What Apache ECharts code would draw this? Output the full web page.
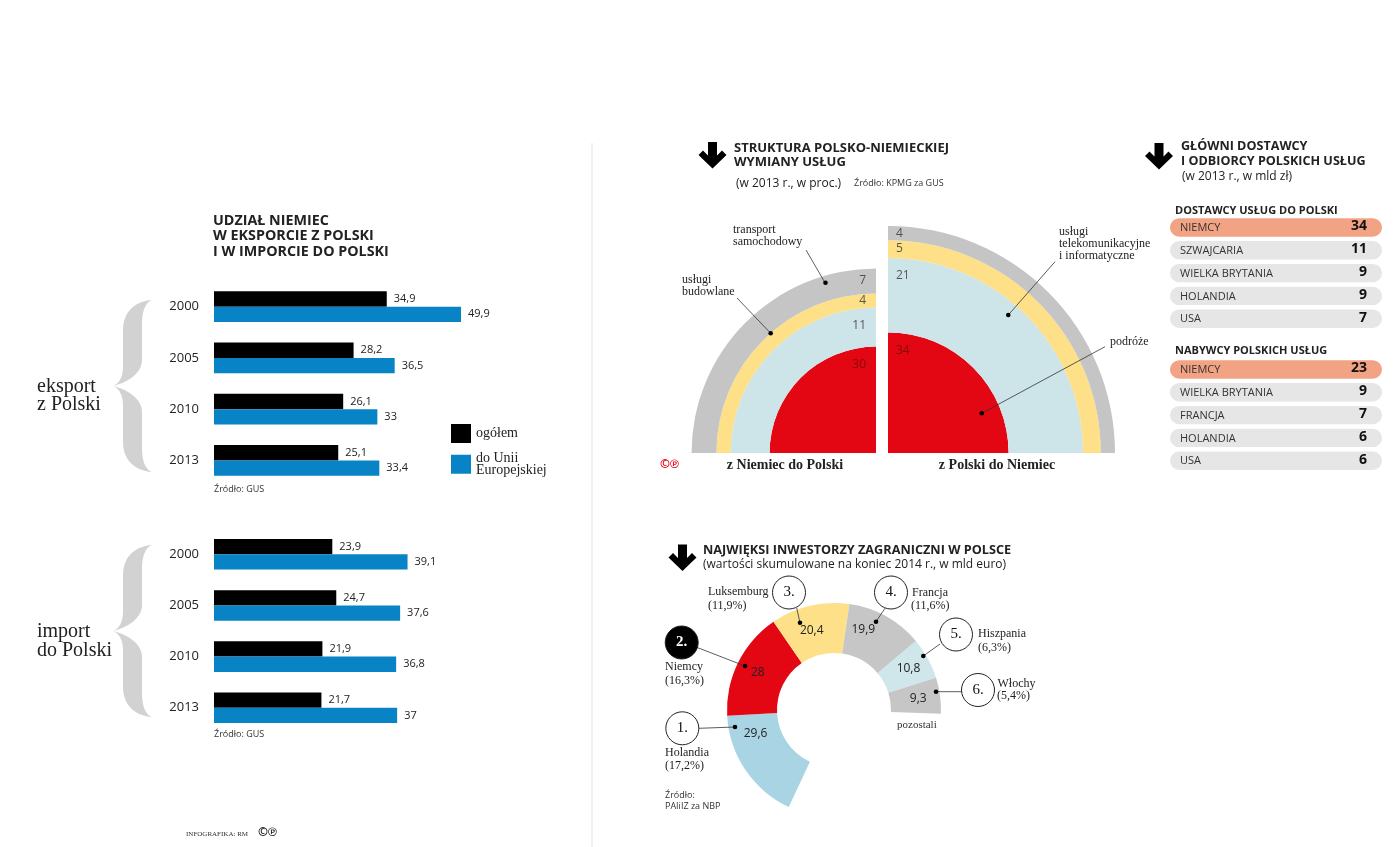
<!DOCTYPE html>
<html><head><meta charset="utf-8">
<script src="https://cdn.jsdelivr.net/npm/echarts@6/dist/echarts.min.js"></script>
<style>html,body{margin:0;padding:0;background:#fff}#c{width:1400px;height:847px}</style>
</head><body><div id="c"></div>
<script>
// ---------- DATA ----------
const years = ['2000', '2005', '2010', '2013'];
const exportTotal = [34.9, 28.2, 26.1, 25.1];
const exportEU = [49.9, 36.5, 33, 33.4];
const importTotal = [23.9, 24.7, 21.9, 21.7];
const importEU = [39.1, 37.6, 36.8, 37];

const serviceLayers = ['podróże', 'usługi telekomunikacyjne i informatyczne', 'usługi budowlane', 'transport samochodowy'];
const deToPl = [30, 11, 4, 7];   // z Niemiec do Polski
const plToDe = [34, 21, 5, 4];   // z Polski do Niemiec

const suppliers = ['NIEMCY', 'SZWAJCARIA', 'WIELKA BRYTANIA', 'HOLANDIA', 'USA'];
const supplierValues = [34, 11, 9, 9, 7];
const buyers = ['NIEMCY', 'WIELKA BRYTANIA', 'FRANCJA', 'HOLANDIA', 'USA'];
const buyerValues = [23, 9, 7, 6, 6];

const investors = ['Holandia', 'Niemcy', 'Luksemburg', 'Francja', 'Hiszpania', 'Włochy', 'pozostali'];
const investorValues = [29.6, 28, 20.4, 19.9, 10.8, 9.3, 54];
const investorShares = ['17,2%', '16,3%', '11,9%', '11,6%', '6,3%', '5,4%'];
const investorRanks = ['1.', '2.', '3.', '4.', '5.', '6.'];

// ---------- STYLE ----------
const SANS = '"Open Sans", sans-serif';
const SERIF = '"Liberation Serif", serif';
const layerColors = ['#e30613', '#cde4e9', '#fde088', '#c5c5c5'];
const investorColors = ['#a9d4e4', '#e30613', '#fde088', '#c6c6c6', '#cfe6eb', '#c6c6c6', 'rgba(0,0,0,0)'];
const pieLabelNudge = {0: {dx: -8, dy: -24}, 2: {dx: -3, dy: 3}, 3: {dx: -12, dy: -6}};
const fmt = v => String(v).replace('.', ',');

const chart = echarts.init(document.getElementById('c'), null, {renderer: 'canvas'});

function txt(text, x, y, font, extra) {
  return {type: 'text', z: 100, silent: true,
    style: Object.assign({text: text, x: x, y: y, font: font, fill: '#222',
      textAlign: 'left', textVerticalAlign: 'middle', align: 'left', verticalAlign: 'middle'}, extra || {})};
}
function line(x1, y1, x2, y2) {
  return {type: 'line', z: 100, silent: true, shape: {x1, y1, x2, y2}, style: {stroke: '#333', lineWidth: 0.8}};
}
function dot(x, y) {
  return {type: 'circle', z: 101, silent: true, shape: {cx: x, cy: y, r: 2.3}, style: {fill: '#000'}};
}
function arrow(x, y) {
  const p = [[9.5, 0.5], [18.5, 0.5], [18.5, 14], [23.5, 9], [28, 13.5], [14, 27], [0, 13.5], [4.5, 9], [9.5, 14]];
  return {type: 'polygon', z: 100, silent: true, shape: {points: p.map(q => [q[0] + x, q[1] + y])}, style: {fill: '#000'}};
}
function bez(p0, p1, p2, p3, n) {
  const out = [];
  for (let i = 1; i <= n; i++) {
    const t = i / n, u = 1 - t;
    out.push([u*u*u*p0[0] + 3*u*u*t*p1[0] + 3*u*t*t*p2[0] + t*t*t*p3[0],
              u*u*u*p0[1] + 3*u*u*t*p1[1] + 3*u*t*t*p2[1] + t*t*t*p3[1]]);
  }
  return out;
}
function brace(y0, y1) {
  const ym = (y0 + y1) / 2, E = 152, O = 123, I = 142, T = 113;
  let pts = [[E, y0]];
  let cur = [E, y0];
  function C(a, b, c) { pts = pts.concat(bez(cur, a, b, c, 14)); cur = c; }
  function L(c) { pts.push(c); cur = c; }
  C([136, y0 + 1], [O, y0 + 11], [O, y0 + 30]);
  L([O, ym - 20]);
  C([O, ym - 9], [119, ym - 2], [T, ym]);
  C([119, ym + 2], [O, ym + 9], [O, ym + 20]);
  L([O, y1 - 30]);
  C([O, y1 - 11], [136, y1 - 1], [E, y1]);
  C([146, y1 - 2], [I, y1 - 10], [I, y1 - 24]);
  L([I, ym + 26]);
  C([I, ym + 12], [126, ym + 3], [T, ym]);
  C([126, ym - 3], [I, ym - 12], [I, ym - 26]);
  L([I, y0 + 24]);
  C([I, y0 + 10], [146, y0 + 2], [E, y0]);
  return {type: 'polygon', z: 50, silent: true, shape: {points: pts}, style: {fill: '#d2d2d2'}};
}

const G = [];
// separator
G.push({type: 'line', z: 10, silent: true, shape: {x1: 592, y1: 143, x2: 592, y2: 847}, style: {stroke: '#e4e4e4', lineWidth: 1}});

// ----- left block -----
const TL = 'bold 14.3px ' + SANS;
G.push(txt('UDZIAŁ NIEMIEC', 213, 220.5, TL));
G.push(txt('W EKSPORCIE Z POLSKI', 213, 236, TL));
G.push(txt('I W IMPORCIE DO POLSKI', 213, 251.7, TL));
G.push(brace(300, 472));
G.push(brace(545, 717));
G.push(txt('eksport', 37, 387, '20px ' + SERIF));
G.push(txt('z Polski', 37, 405, '20px ' + SERIF));
G.push(txt('import', 37, 632, '20px ' + SERIF));
G.push(txt('do Polski', 37, 651, '20px ' + SERIF));
G.push(txt('Źródło: GUS', 214, 489, '9px ' + SANS, {fill: '#333'}));
G.push(txt('Źródło: GUS', 214, 734, '9px ' + SANS, {fill: '#333'}));
G.push(txt('INFOGRAFIKA: RM', 186, 834, '7px ' + SERIF, {fill: '#333'}));
G.push(txt('©℗', 258, 833, 'bold 12px ' + SANS, {fill: '#222'}));

// ----- middle top block -----
const TM = 'bold 13px ' + SANS;
G.push(arrow(698.5, 141.5));
G.push(txt('STRUKTURA POLSKO-NIEMIECKIEJ', 734, 148.3, TM));
G.push(txt('WYMIANY USŁUG', 734, 162.3, TM));
G.push(txt('(w 2013 r., w proc.)', 736, 183.3, '12px ' + SANS));
G.push(txt('Źródło: KPMG za GUS', 854, 183.5, '9px ' + SANS, {fill: '#333'}));
const CS = '12px ' + SERIF;
G.push(txt('transport', 733, 230, CS));
G.push(txt('samochodowy', 733, 242, CS));
G.push(line(806, 250, 825, 282.7)); G.push(dot(825.5, 282.7));
G.push(txt('usługi', 682, 280, CS));
G.push(txt('budowlane', 682, 292, CS));
G.push(line(737, 298, 770.7, 333.3)); G.push(dot(770.7, 333.3));
G.push(txt('usługi', 1059, 231.5, CS));
G.push(txt('telekomunikacyjne', 1059, 243.5, CS));
G.push(txt('i informatyczne', 1059, 255.5, CS));
G.push(line(1055, 261.7, 1008.3, 315)); G.push(dot(1008.3, 315));
G.push(txt('podróże', 1110, 342, CS));
G.push(line(1105, 346.7, 981.7, 413.3)); G.push(dot(981.7, 413.3));
G.push(txt('z Niemiec do Polski', 785, 465, 'bold 14px ' + SERIF, {textAlign: 'center', align: 'center'}));
G.push(txt('z Polski do Niemiec', 997, 465, 'bold 14px ' + SERIF, {textAlign: 'center', align: 'center'}));
G.push(txt('©℗', 660, 465, 'bold 12px ' + SANS, {fill: '#e30613'}));

// ----- right table -----
G.push(arrow(1145, 142.5));
G.push(txt('GŁÓWNI DOSTAWCY', 1181, 146.5, 'bold 12.6px ' + SANS));
G.push(txt('I ODBIORCY POLSKICH USŁUG', 1181, 161.5, 'bold 12.6px ' + SANS));
G.push(txt('(w 2013 r., w mld zł)', 1182, 177, '12px ' + SANS));
function table(title, titleY, names, vals, firstY) {
  G.push(txt(title, 1175, titleY, 'bold 11px ' + SANS));
  names.forEach((n, i) => {
    const cy = firstY + i * 22.8;
    G.push({type: 'rect', z: 20, silent: true, shape: {x: 1170, y: cy - 9.2, width: 212, height: 18.4, r: 9.2},
      style: {fill: i === 0 ? '#f2a384' : '#e6e6e6'}});
    G.push(txt(n, 1180, cy + 0.5, '11px ' + SANS, {fill: '#333'}));
    G.push(txt(String(vals[i]), 1367, cy - 1, 'bold 14px ' + SANS, {fill: '#111', textAlign: 'right', align: 'right'}));
  });
}
table('DOSTAWCY USŁUG DO POLSKI', 211, suppliers, supplierValues, 227.5);
table('NABYWCY POLSKICH USŁUG', 351, buyers, buyerValues, 369.5);

// ----- bottom donut block -----
G.push(arrow(668.5, 544));
G.push(txt('NAJWIĘKSI INWESTORZY ZAGRANICZNI W POLSCE', 703, 550.7, 'bold 12.7px ' + SANS));
G.push(txt('(wartości skumulowane na koniec 2014 r., w mld euro)', 703, 565, '12px ' + SANS));
function circ(cx, cy, label, filled) {
  G.push({type: 'circle', z: 100, silent: true, shape: {cx, cy, r: 16.5},
    style: {fill: filled ? '#000' : '#fff', stroke: '#222', lineWidth: 1}});
  G.push(txt(label, cx, cy, (filled ? 'bold 15px ' : '15px ') + SERIF, {fill: filled ? '#fff' : '#111', textAlign: 'center', align: 'center'}));
}
const DS = '12px ' + SERIF;
// 1. Holandia
G.push(line(699, 728.3, 735, 727)); G.push(dot(735, 727));
circ(682.3, 728.3, investorRanks[0], false);
G.push(txt(investors[0], 665, 753.3, DS)); G.push(txt('(' + investorShares[0] + ')', 665, 766, DS));
// 2. Niemcy
G.push(line(696.7, 647.3, 745, 666)); G.push(dot(745, 666));
circ(681.7, 642.5, investorRanks[1], true);
G.push(txt(investors[1], 665, 667, DS)); G.push(txt('(' + investorShares[1] + ')', 665, 681, DS));
// 3. Luksemburg
G.push(line(796.7, 608, 800, 622.7)); G.push(dot(800, 622.7));
circ(789, 592.5, investorRanks[2], false);
G.push(txt(investors[2], 708, 591.5, DS)); G.push(txt('(' + investorShares[2] + ')', 708, 605.7, DS));
// 4. Francja
G.push(line(885, 608.3, 876, 621.7)); G.push(dot(876, 621.7));
circ(891, 592.5, investorRanks[3], false);
G.push(txt(investors[3], 912, 593, DS)); G.push(txt('(' + investorShares[3] + ')', 911, 606, DS));
// 5. Hiszpania
G.push(line(940, 644, 923.3, 656)); G.push(dot(923.3, 656));
circ(956, 634.5, investorRanks[4], false);
G.push(txt(investors[4], 978, 634.3, DS)); G.push(txt('(' + investorShares[4] + ')', 978, 648.3, DS));
// 6. Włochy
G.push(line(961.7, 691.7, 936, 691.7)); G.push(dot(936, 691.7));
circ(978, 690, investorRanks[5], false);
G.push(txt(investors[5], 997.5, 684, DS)); G.push(txt('(' + investorShares[5] + ')', 997, 695.5, DS));
G.push(txt(investors[6], 897, 725, '11px ' + SERIF, {fill: '#333'}));
G.push(txt('Źródło:', 665, 795, '9px ' + SANS, {fill: '#333'}));
G.push(txt('PAIiIZ za NBP', 665, 806, '9px ' + SANS, {fill: '#333'}));

// ---------- label anchors for semicircle layers ----------
function layerLabels(vals, xv) {
  let cum = 0;
  return vals.map((v, i) => {
    cum += v;
    return {value: [xv, cum - Math.min(v / 2, 5), v],
      label: {color: i === 0 ? '#6e0a0a' : '#333'}};
  });
}

const barLabel = {show: true, position: 'right', distance: 7, fontSize: 11, color: '#222', fontFamily: SANS, formatter: p => fmt(p.value)};
const yCat = idx => ({type: 'category', gridIndex: idx, data: years, inverse: true,
  axisLine: {show: false}, axisTick: {show: false},
  axisLabel: {fontSize: 13, color: '#222', fontFamily: SANS, margin: 15}});
const xVal = idx => ({type: 'value', gridIndex: idx, min: 0, max: 50, show: false});

const series = [
  {name: 'ogółem', type: 'bar', xAxisIndex: 0, yAxisIndex: 0, data: exportTotal, barWidth: 15.3, barGap: '0%', itemStyle: {color: '#000'}, label: barLabel, silent: true},
  {name: 'do Unii Europejskiej', type: 'bar', xAxisIndex: 0, yAxisIndex: 0, data: exportEU, barWidth: 15.3, barGap: '0%', itemStyle: {color: '#0883c5'}, label: barLabel, silent: true},
  {name: 'ogółem', type: 'bar', xAxisIndex: 1, yAxisIndex: 1, data: importTotal, barWidth: 15.3, barGap: '0%', itemStyle: {color: '#000'}, label: barLabel, silent: true},
  {name: 'do Unii Europejskiej', type: 'bar', xAxisIndex: 1, yAxisIndex: 1, data: importEU, barWidth: 15.3, barGap: '0%', itemStyle: {color: '#0883c5'}, label: barLabel, silent: true}
];
serviceLayers.forEach((name, i) => {
  series.push({name: name, type: 'bar', coordinateSystem: 'polar', polarIndex: 0, stack: 'de', data: [deToPl[i]],
    barCategoryGap: '0%', itemStyle: {color: layerColors[i]}, silent: true});
  series.push({name: name, type: 'bar', coordinateSystem: 'polar', polarIndex: 1, stack: 'pl', data: [plToDe[i]],
    barCategoryGap: '0%', itemStyle: {color: layerColors[i]}, silent: true});
});
series.push({type: 'scatter', xAxisIndex: 2, yAxisIndex: 2, symbolSize: 0, silent: true, z: 10,
  data: layerLabels(deToPl, 0),
  label: {show: true, position: 'left', distance: 10, fontSize: 12, fontFamily: SANS, formatter: p => p.value[2]}});
series.push({type: 'scatter', xAxisIndex: 2, yAxisIndex: 2, symbolSize: 0, silent: true, z: 10,
  data: layerLabels(plToDe, 1),
  label: {show: true, position: 'right', distance: 8, fontSize: 12, fontFamily: SANS, formatter: p => p.value[2]}});
series.push({type: 'pie', center: [834, 710], radius: [57, 107], startAngle: 245, clockwise: true, silent: true,
  itemStyle: {borderWidth: 0}, labelLine: {show: false},
  label: {show: true, position: 'inside', fontSize: 12, color: '#222', fontFamily: SANS, formatter: p => fmt(p.value)},
  labelLayout: p => pieLabelNudge[p.dataIndex] || {},
  emphasis: {disabled: true},
  data: investors.map((n, i) => ({name: n, value: investorValues[i], itemStyle: {color: investorColors[i]},
    label: i === investors.length - 1 ? {show: false} : undefined}))});

chart.setOption({
  animation: false,
  backgroundColor: '#fff',
  legend: {left: 451, top: 424, padding: 0, orient: 'vertical', itemWidth: 20, itemHeight: 19, itemGap: 8, icon: 'rect',
    data: ['ogółem', 'do Unii Europejskiej'], selectedMode: false,
    formatter: n => n === 'do Unii Europejskiej' ? 'do Unii\nEuropejskiej' : n,
    textStyle: {fontFamily: SERIF, fontSize: 14, color: '#222', lineHeight: 12.5}},
  grid: [
    {left: 214, top: 281, width: 247.5, height: 205},
    {left: 214, top: 528.7, width: 247.5, height: 204.6},
    {left: 876, top: 226, width: 12, height: 227}
  ],
  xAxis: [xVal(0), xVal(1), {type: 'value', gridIndex: 2, min: 0, max: 1, show: false}],
  yAxis: [yCat(0), yCat(1), {type: 'value', gridIndex: 2, min: 0, max: 64, show: false}],
  polar: [{center: [876, 453], radius: 227}, {center: [888, 453], radius: 227}],
  angleAxis: [
    {polarIndex: 0, type: 'category', data: ['z Niemiec do Polski'], startAngle: 180, endAngle: 90, clockwise: true, show: false},
    {polarIndex: 1, type: 'category', data: ['z Polski do Niemiec'], startAngle: 90, endAngle: 0, clockwise: true, show: false}
  ],
  radiusAxis: [
    {polarIndex: 0, type: 'value', min: 0, max: 64, show: false},
    {polarIndex: 1, type: 'value', min: 0, max: 64, show: false}
  ],
  series: series,
  graphic: {elements: G}
});
</script></body></html>
